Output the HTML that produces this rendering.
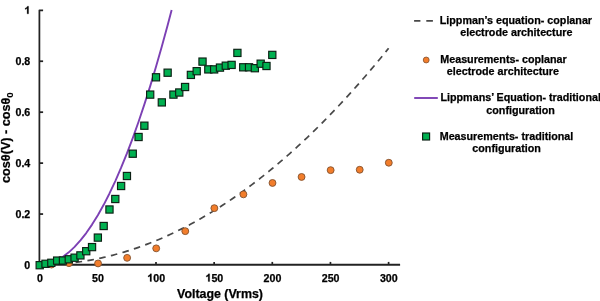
<!DOCTYPE html>
<html><head><meta charset="utf-8"><title>Chart</title>
<style>
html,body{margin:0;padding:0;background:#fff;}
body{width:600px;height:301px;overflow:hidden;}
svg{display:block;filter:blur(0.35px);}
text{font-family:"Liberation Sans",sans-serif;font-weight:bold;fill:#000;stroke:#000;stroke-width:0.25px;}
.tk{font-size:10.67px;}
.ti{font-size:12.4px;}
.lg{font-size:10.74px;}
</style></head><body>
<svg width="600" height="301" viewBox="0 0 600 301">
<rect width="600" height="301" fill="#ffffff"/>
<g id="axes">
<path d="M43.1,10.25 L39.4,10.25 L39.4,265.7" fill="none" stroke="#222" stroke-width="1.75" stroke-linejoin="round"/>
<line x1="38.449999999999996" y1="264.8" x2="400.1" y2="264.8" stroke="#222" stroke-width="1.9"/>
<line x1="39.4" y1="214.06" x2="43.1" y2="214.06" stroke="#222" stroke-width="1.75"/>
<line x1="39.4" y1="163.12" x2="43.1" y2="163.12" stroke="#222" stroke-width="1.75"/>
<line x1="39.4" y1="112.18" x2="43.1" y2="112.18" stroke="#222" stroke-width="1.75"/>
<line x1="39.4" y1="61.24" x2="43.1" y2="61.24" stroke="#222" stroke-width="1.75"/>
<line x1="97.85" y1="264.7" x2="97.85" y2="261.9" stroke="#222" stroke-width="1.7"/>
<line x1="156.00" y1="264.7" x2="156.00" y2="261.9" stroke="#222" stroke-width="1.7"/>
<line x1="214.15" y1="264.7" x2="214.15" y2="261.9" stroke="#222" stroke-width="1.7"/>
<line x1="272.30" y1="264.7" x2="272.30" y2="261.9" stroke="#222" stroke-width="1.7"/>
<line x1="330.45" y1="264.7" x2="330.45" y2="261.9" stroke="#222" stroke-width="1.7"/>
<line x1="388.60" y1="264.7" x2="388.60" y2="261.9" stroke="#222" stroke-width="1.7"/>
</g>
<g id="series">
<path d="M39.70,264.70 L42.61,264.68 L45.52,264.64 L48.42,264.56 L51.33,264.46 L54.24,264.32 L57.15,264.16 L60.05,263.96 L62.96,263.74 L65.87,263.48 L68.78,263.20 L71.68,262.88 L74.59,262.54 L77.50,262.16 L80.41,261.75 L83.31,261.32 L86.22,260.85 L89.13,260.36 L92.03,259.83 L94.94,259.28 L97.85,258.69 L100.76,258.07 L103.67,257.43 L106.57,256.75 L109.48,256.04 L112.39,255.31 L115.30,254.54 L118.20,253.75 L121.11,252.92 L124.02,252.06 L126.93,251.18 L129.83,250.26 L132.74,249.31 L135.65,248.34 L138.56,247.33 L141.46,246.29 L144.37,245.22 L147.28,244.13 L150.19,243.00 L153.09,241.84 L156.00,240.66 L158.91,239.44 L161.81,238.19 L164.72,236.91 L167.63,235.61 L170.54,234.27 L173.44,232.90 L176.35,231.50 L179.26,230.08 L182.17,228.62 L185.07,227.13 L187.98,225.61 L190.89,224.07 L193.80,222.49 L196.70,220.88 L199.61,219.24 L202.52,217.57 L205.43,215.88 L208.33,214.15 L211.24,212.39 L214.15,210.60 L217.06,208.78 L219.97,206.94 L222.87,205.06 L225.78,203.15 L228.69,201.21 L231.60,199.24 L234.50,197.24 L237.41,195.21 L240.32,193.16 L243.23,191.07 L246.13,188.95 L249.04,186.80 L251.95,184.62 L254.86,182.41 L257.76,180.17 L260.67,177.90 L263.58,175.60 L266.49,173.27 L269.39,170.91 L272.30,168.53 L275.21,166.11 L278.12,163.66 L281.02,161.18 L283.93,158.67 L286.84,156.13 L289.75,153.56 L292.65,150.96 L295.56,148.33 L298.47,145.67 L301.38,142.98 L304.28,140.26 L307.19,137.51 L310.10,134.73 L313.00,131.92 L315.91,129.08 L318.82,126.21 L321.73,123.31 L324.63,120.38 L327.54,117.42 L330.45,114.43 L333.36,111.41 L336.26,108.36 L339.17,105.28 L342.08,102.16 L344.99,99.02 L347.89,95.85 L350.80,92.65 L353.71,89.42 L356.62,86.16 L359.52,82.87 L362.43,79.55 L365.34,76.20 L368.25,72.82 L371.15,69.41 L374.06,65.96 L376.97,62.49 L379.88,58.99 L382.79,55.46 L385.69,51.90 L388.60,48.31" fill="none" stroke="#484848" stroke-width="1.7" stroke-dasharray="6.6 5.39"/>
<circle cx="51.53" cy="264.55" r="3.45" fill="#F27D2B" stroke="#82512f" stroke-width="0.9"/>
<circle cx="68.98" cy="263.15" r="3.45" fill="#F27D2B" stroke="#82512f" stroke-width="0.9"/>
<circle cx="98.05" cy="263.45" r="3.45" fill="#F27D2B" stroke="#82512f" stroke-width="0.9"/>
<circle cx="127.13" cy="257.85" r="3.45" fill="#F27D2B" stroke="#82512f" stroke-width="0.9"/>
<circle cx="156.20" cy="248.35" r="3.45" fill="#F27D2B" stroke="#82512f" stroke-width="0.9"/>
<circle cx="185.27" cy="231.15" r="3.45" fill="#F27D2B" stroke="#82512f" stroke-width="0.9"/>
<circle cx="214.35" cy="208.15" r="3.45" fill="#F27D2B" stroke="#82512f" stroke-width="0.9"/>
<circle cx="243.43" cy="194.35" r="3.45" fill="#F27D2B" stroke="#82512f" stroke-width="0.9"/>
<circle cx="272.50" cy="182.95" r="3.45" fill="#F27D2B" stroke="#82512f" stroke-width="0.9"/>
<circle cx="301.57" cy="176.95" r="3.45" fill="#F27D2B" stroke="#82512f" stroke-width="0.9"/>
<circle cx="330.65" cy="170.15" r="3.45" fill="#F27D2B" stroke="#82512f" stroke-width="0.9"/>
<circle cx="359.72" cy="169.75" r="3.45" fill="#F27D2B" stroke="#82512f" stroke-width="0.9"/>
<circle cx="388.80" cy="162.75" r="3.45" fill="#F27D2B" stroke="#82512f" stroke-width="0.9"/>
<path d="M39.70,264.70 L45.52,264.21 L51.33,262.72 L57.15,260.25 L62.96,256.78 L68.78,252.33 L74.59,246.89 L80.41,240.46 L86.22,233.04 L92.03,224.62 L97.85,215.22 L103.67,204.83 L109.48,193.46 L115.30,181.09 L121.11,167.73 L126.93,153.38 L132.74,138.04 L138.56,121.72 L144.37,104.40 L150.19,86.09 L156.00,66.80 L161.81,46.51 L167.63,25.24 L171.64,10.00" fill="none" stroke="#7C40B4" stroke-width="1.9" stroke-linejoin="round"/>
<rect x="36.10" y="261.60" width="7.2" height="7.2" fill="#00B050" stroke="#0c2014" stroke-width="1.15"/>
<rect x="41.91" y="260.20" width="7.2" height="7.2" fill="#00B050" stroke="#0c2014" stroke-width="1.15"/>
<rect x="47.73" y="259.20" width="7.2" height="7.2" fill="#00B050" stroke="#0c2014" stroke-width="1.15"/>
<rect x="53.55" y="257.00" width="7.2" height="7.2" fill="#00B050" stroke="#0c2014" stroke-width="1.15"/>
<rect x="59.36" y="256.90" width="7.2" height="7.2" fill="#00B050" stroke="#0c2014" stroke-width="1.15"/>
<rect x="65.18" y="255.70" width="7.2" height="7.2" fill="#00B050" stroke="#0c2014" stroke-width="1.15"/>
<rect x="70.99" y="254.10" width="7.2" height="7.2" fill="#00B050" stroke="#0c2014" stroke-width="1.15"/>
<rect x="76.81" y="251.80" width="7.2" height="7.2" fill="#00B050" stroke="#0c2014" stroke-width="1.15"/>
<rect x="82.62" y="247.60" width="7.2" height="7.2" fill="#00B050" stroke="#0c2014" stroke-width="1.15"/>
<rect x="88.44" y="243.50" width="7.2" height="7.2" fill="#00B050" stroke="#0c2014" stroke-width="1.15"/>
<rect x="94.25" y="234.00" width="7.2" height="7.2" fill="#00B050" stroke="#0c2014" stroke-width="1.15"/>
<rect x="100.07" y="222.40" width="7.2" height="7.2" fill="#00B050" stroke="#0c2014" stroke-width="1.15"/>
<rect x="105.88" y="205.90" width="7.2" height="7.2" fill="#00B050" stroke="#0c2014" stroke-width="1.15"/>
<rect x="111.70" y="195.40" width="7.2" height="7.2" fill="#00B050" stroke="#0c2014" stroke-width="1.15"/>
<rect x="117.51" y="182.40" width="7.2" height="7.2" fill="#00B050" stroke="#0c2014" stroke-width="1.15"/>
<rect x="123.33" y="172.40" width="7.2" height="7.2" fill="#00B050" stroke="#0c2014" stroke-width="1.15"/>
<rect x="129.14" y="150.10" width="7.2" height="7.2" fill="#00B050" stroke="#0c2014" stroke-width="1.15"/>
<rect x="134.96" y="133.40" width="7.2" height="7.2" fill="#00B050" stroke="#0c2014" stroke-width="1.15"/>
<rect x="140.77" y="122.10" width="7.2" height="7.2" fill="#00B050" stroke="#0c2014" stroke-width="1.15"/>
<rect x="146.59" y="91.00" width="7.2" height="7.2" fill="#00B050" stroke="#0c2014" stroke-width="1.15"/>
<rect x="152.40" y="73.70" width="7.2" height="7.2" fill="#00B050" stroke="#0c2014" stroke-width="1.15"/>
<rect x="158.22" y="98.80" width="7.2" height="7.2" fill="#00B050" stroke="#0c2014" stroke-width="1.15"/>
<rect x="164.03" y="69.10" width="7.2" height="7.2" fill="#00B050" stroke="#0c2014" stroke-width="1.15"/>
<rect x="169.84" y="91.00" width="7.2" height="7.2" fill="#00B050" stroke="#0c2014" stroke-width="1.15"/>
<rect x="175.66" y="88.90" width="7.2" height="7.2" fill="#00B050" stroke="#0c2014" stroke-width="1.15"/>
<rect x="181.47" y="83.40" width="7.2" height="7.2" fill="#00B050" stroke="#0c2014" stroke-width="1.15"/>
<rect x="187.29" y="71.30" width="7.2" height="7.2" fill="#00B050" stroke="#0c2014" stroke-width="1.15"/>
<rect x="193.10" y="67.60" width="7.2" height="7.2" fill="#00B050" stroke="#0c2014" stroke-width="1.15"/>
<rect x="198.92" y="58.00" width="7.2" height="7.2" fill="#00B050" stroke="#0c2014" stroke-width="1.15"/>
<rect x="204.73" y="65.80" width="7.2" height="7.2" fill="#00B050" stroke="#0c2014" stroke-width="1.15"/>
<rect x="210.55" y="65.80" width="7.2" height="7.2" fill="#00B050" stroke="#0c2014" stroke-width="1.15"/>
<rect x="216.37" y="64.00" width="7.2" height="7.2" fill="#00B050" stroke="#0c2014" stroke-width="1.15"/>
<rect x="222.18" y="62.10" width="7.2" height="7.2" fill="#00B050" stroke="#0c2014" stroke-width="1.15"/>
<rect x="228.00" y="61.30" width="7.2" height="7.2" fill="#00B050" stroke="#0c2014" stroke-width="1.15"/>
<rect x="233.81" y="49.30" width="7.2" height="7.2" fill="#00B050" stroke="#0c2014" stroke-width="1.15"/>
<rect x="239.63" y="63.70" width="7.2" height="7.2" fill="#00B050" stroke="#0c2014" stroke-width="1.15"/>
<rect x="245.44" y="63.70" width="7.2" height="7.2" fill="#00B050" stroke="#0c2014" stroke-width="1.15"/>
<rect x="251.26" y="64.60" width="7.2" height="7.2" fill="#00B050" stroke="#0c2014" stroke-width="1.15"/>
<rect x="257.07" y="60.10" width="7.2" height="7.2" fill="#00B050" stroke="#0c2014" stroke-width="1.15"/>
<rect x="262.88" y="62.40" width="7.2" height="7.2" fill="#00B050" stroke="#0c2014" stroke-width="1.15"/>
<rect x="268.70" y="51.30" width="7.2" height="7.2" fill="#00B050" stroke="#0c2014" stroke-width="1.15"/>
</g>
<g id="labels">
<text x="24.37" y="268.55" class="tk">0</text>
<text x="15.47" y="217.61" class="tk">0.2</text>
<text x="15.47" y="166.67" class="tk">0.4</text>
<text x="15.47" y="115.73" class="tk">0.6</text>
<text x="15.47" y="64.79" class="tk">0.8</text>
<path d="M806 0H525V1059Q371 915 162 846V1101Q272 1137 401 1237.5T578 1472H806Z" transform="translate(24.37,13.85) scale(0.005210,-0.005210)" fill="#000" stroke="#000" stroke-width="48.0"/>
<text x="36.93" y="281.50" class="tk">0</text>
<text x="92.12" y="281.50" class="tk">50</text>
<path d="M806 0H525V1059Q371 915 162 846V1101Q272 1137 401 1237.5T578 1472H806Z" transform="translate(147.30,281.50) scale(0.005210,-0.005210)" fill="#000" stroke="#000" stroke-width="48.0"/><text x="153.23" y="281.50" class="tk">00</text>
<path d="M806 0H525V1059Q371 915 162 846V1101Q272 1137 401 1237.5T578 1472H806Z" transform="translate(205.45,281.50) scale(0.005210,-0.005210)" fill="#000" stroke="#000" stroke-width="48.0"/><text x="211.38" y="281.50" class="tk">50</text>
<text x="263.60" y="281.50" class="tk">200</text>
<text x="321.75" y="281.50" class="tk">250</text>
<text x="379.90" y="281.50" class="tk">300</text>
<text x="220" y="298.2" text-anchor="middle" class="ti">Voltage (Vrms)</text>
<text transform="translate(10.1,137.6) rotate(-90)" text-anchor="middle" class="ti" style="font-size:12.65px">cosθ(V) - cosθ<tspan font-size="9.7" dy="2.8" stroke-width="0.1">0</tspan></text>
</g>
<g id="legend">
<path d="M414.1,20.8 L434,20.8" stroke="#484848" stroke-width="1.85" stroke-dasharray="6.3 5.9 6.6 20" fill="none"/>
<text x="515.9" y="23.6" text-anchor="middle" class="lg">Lippman’s equation- coplanar</text>
<text x="516.3" y="36.4" text-anchor="middle" class="lg">electrode architecture</text>
<circle cx="426.2" cy="60" r="2.95" fill="#F27D2B" stroke="#82512f" stroke-width="0.8"/>
<text x="503.5" y="62.8" text-anchor="middle" class="lg">Measurements- coplanar</text>
<text x="502.9" y="75.1" text-anchor="middle" class="lg">electrode architecture</text>
<path d="M414.2,98 L437.8,98" stroke="#7C40B4" stroke-width="1.9" fill="none"/>
<text x="520.7" y="100.9" text-anchor="middle" class="lg">Lippmans’ Equation- traditional</text>
<text x="520.6" y="113.6" text-anchor="middle" class="lg">configuration</text>
<rect x="422.6" y="133.0" width="7.0" height="7.0" fill="#00B050" stroke="#0c2014" stroke-width="1.15"/>
<text x="506.5" y="139.6" text-anchor="middle" class="lg">Measurements- traditional</text>
<text x="506.6" y="152.4" text-anchor="middle" class="lg">configuration</text>
</g>
</svg>
</body></html>
